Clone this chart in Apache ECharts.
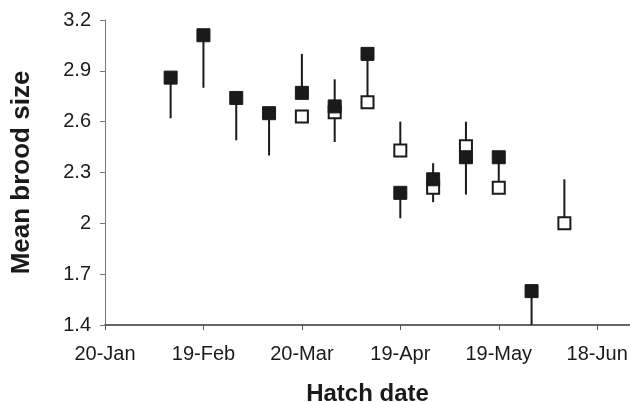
<!DOCTYPE html>
<html>
<head>
<meta charset="utf-8">
<script src="https://cdn.jsdelivr.net/npm/echarts@6/dist/echarts.min.js"></script>
<style>html,body{margin:0;padding:0;background:#fff}#c{width:630px;height:402px}</style>
</head>
<body>
<div id="c"></div>
<script>
// Day numbers counted from 20-Jan
var tickLabels = ['20-Jan', '19-Feb', '20-Mar', '19-Apr', '19-May', '18-Jun'];
var filledDays = [20, 30, 40, 50, 60, 70, 80, 90, 100, 110, 120, 130];
var filledMeans = [2.86, 3.11, 2.74, 2.65, 2.77, 2.69, 3.00, 2.18, 2.26, 2.39, 2.39, 1.60];
var filledErrEnd = [2.62, 2.80, 2.49, 2.40, 3.00, 2.48, 2.72, 2.03, 2.355, 2.17, 2.21, 1.40];
var openDays = [60, 70, 80, 90, 100, 110, 120, 140];
var openMeans = [2.63, 2.655, 2.715, 2.43, 2.21, 2.455, 2.21, 2.00];
var openErrEnd = [2.63, 2.85, 2.715, 2.60, 2.125, 2.60, 2.21, 2.26];

var filledData = filledDays.map(function (d, i) { return [d, filledMeans[i], filledErrEnd[i]]; });
var openData = openDays.map(function (d, i) { return [d, openMeans[i], openErrEnd[i]]; });

function errRender(params, api) {
  var p1 = api.coord([api.value(0), api.value(1)]);
  var p2 = api.coord([api.value(0), api.value(2)]);
  return { type: 'line', shape: { x1: p1[0], y1: p1[1], x2: p2[0], y2: p2[1] },
    style: { stroke: '#1a1a1a', lineWidth: 2 } };
}

var chart = echarts.init(document.getElementById('c'));
chart.setOption({
  animation: false,
  backgroundColor: '#fff',
  grid: { left: 105, right: 0, top: 20, bottom: 77, containLabel: false, outerBoundsMode: 'none' },
  xAxis: {
    type: 'value', min: 0, max: 160, interval: 30,
    name: 'Hatch date', nameLocation: 'middle', nameGap: 57,
    nameTextStyle: { fontFamily: 'Liberation Sans', fontWeight: 'bold', fontSize: 24, color: '#1a1a1a' },
    axisLine: { show: true, lineStyle: { color: '#333', width: 1.5 } },
    axisTick: { show: true, length: 5, lineStyle: { color: '#555' } },
    splitLine: { show: false },
    axisLabel: { margin: 19, fontFamily: 'Liberation Sans', fontSize: 20, color: '#1a1a1a',
      formatter: function (v) { return tickLabels[Math.round(v / 30)] || ''; } }
  },
  yAxis: {
    type: 'value', min: 1.4, max: 3.2, interval: 0.3,
    name: 'Mean brood size', nameLocation: 'middle', nameGap: 70,
    nameTextStyle: { fontFamily: 'Liberation Sans', fontWeight: 'bold', fontSize: 26, color: '#1a1a1a' },
    axisLine: { show: true, lineStyle: { color: '#777', width: 1 } },
    axisTick: { show: true, length: 5, lineStyle: { color: '#777' } },
    splitLine: { show: false },
    axisLabel: { margin: 14, fontFamily: 'Liberation Sans', fontSize: 20, color: '#1a1a1a',
      formatter: function (v) { return String(Math.round(v * 10) / 10); } }
  },
  series: [
    { type: 'custom', renderItem: errRender, data: openData, z: 1, clip: false },
    { type: 'custom', renderItem: errRender, data: filledData, z: 1, clip: false },
    { type: 'scatter', data: openData, symbol: 'rect', symbolSize: 12, z: 2,
      itemStyle: { color: '#fff', borderColor: '#1a1a1a', borderWidth: 2, opacity: 1 } },
    { type: 'scatter', data: filledData, symbol: 'rect', symbolSize: 13, z: 3,
      itemStyle: { color: '#1a1a1a', borderColor: '#1a1a1a', borderWidth: 1, opacity: 1 } }
  ]
});
</script>
</body>
</html>
